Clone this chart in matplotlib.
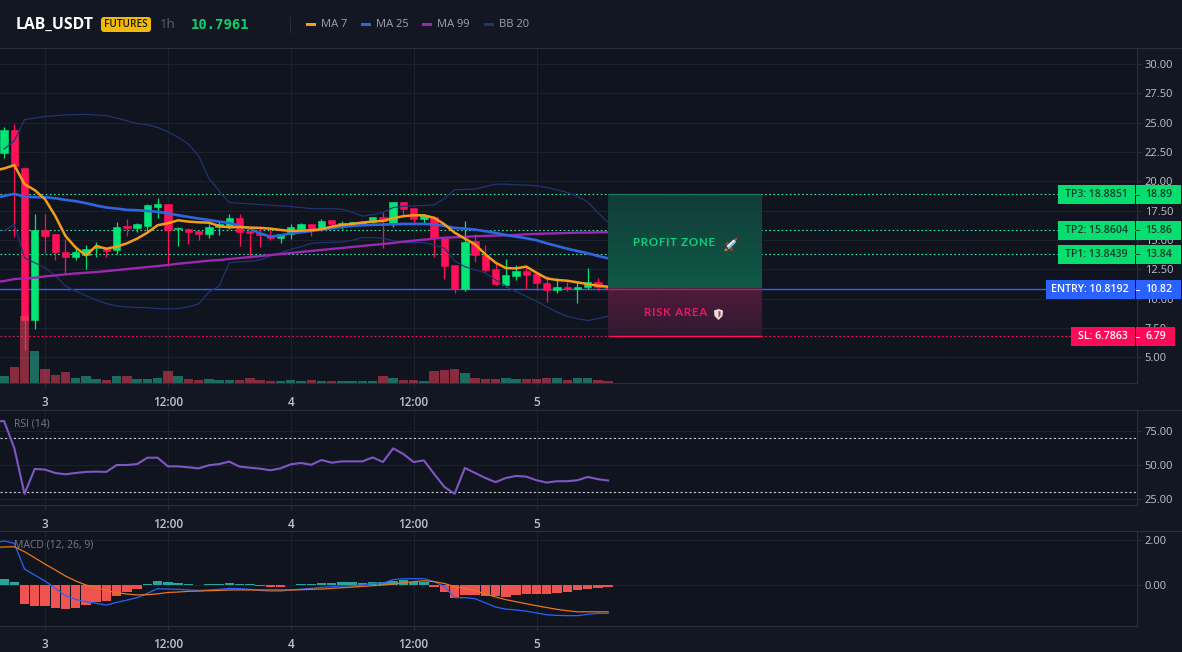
import numpy as np
import matplotlib
matplotlib.use('Agg')
import matplotlib.pyplot as plt
from matplotlib.patches import Rectangle, FancyBboxPatch, Polygon
from matplotlib.colors import to_rgb

WIDTH = 1182
HEIGHT = 652

plt.rcParams['font.family'] = ['Open Sans', 'DejaVu Sans']

# hourly bars, hour 0 is the start of day 3
hours = np.arange(-5, 56)
bar_hours = hours[1:]

opens = [22.41, 24.37, 21.13, 8.17, 15.86, 15.49, 14.0, 13.55, 13.75, 14.32, 14.23, 14.15, 16.17, 16.0, 16.2,
         17.82, 18.05, 15.97, 15.97, 15.74, 15.5, 16.14, 16.2, 16.85, 15.74, 15.57, 15.34, 15.14, 15.5, 15.97,
         16.34, 15.97, 16.69, 16.2, 16.34, 16.4, 16.54, 16.94, 16.49, 18.25, 17.71, 16.77, 17.0, 15.29, 12.84,
         10.79, 14.89, 13.75, 12.5, 11.19, 11.93, 12.33, 12.1, 11.36, 10.73, 10.96, 10.85, 10.96, 11.44, 11.02]
closes = [24.4, 21.27, 8.22, 15.86, 15.32, 13.98, 13.55, 14.0, 14.26, 14.43, 14.09, 16.14, 16.0, 16.34, 17.96,
          18.05, 15.86, 16.06, 15.69, 15.5, 16.14, 16.34, 16.85, 15.69, 15.57, 15.4, 15.14, 15.54, 16.08, 16.34,
          15.97, 16.66, 16.34, 16.49, 16.57, 16.54, 16.94, 16.63, 18.25, 17.63, 16.77, 17.11, 15.2, 12.78, 10.79,
          14.86, 13.69, 12.41, 11.22, 11.98, 12.33, 11.98, 11.3, 10.73, 10.96, 10.82, 11.02, 11.44, 11.02, 10.8]
highs = [24.6, 24.89, 21.2, 17.2, 17.2, 15.49, 15.06, 14.49, 14.55, 14.86, 14.23, 16.57, 16.77, 16.48, 18.05,
         18.56, 18.1, 16.14, 16.0, 15.74, 16.34, 16.6, 17.2, 17.2, 15.74, 16.2, 16.14, 15.54, 16.34, 16.48,
         16.4, 16.83, 16.71, 16.63, 16.57, 16.6, 16.94, 17.4, 18.28, 18.25, 17.77, 17.2, 17.06, 15.29, 12.84,
         16.66, 15.49, 14.55, 13.07, 13.35, 12.84, 12.73, 12.27, 11.93, 11.76, 11.42, 11.5, 12.64, 11.79, 11.1]
lows = [21.98, 15.26, 5.66, 7.42, 13.86, 13.29, 12.07, 13.29, 12.49, 13.55, 13.55, 13.78, 15.32, 15.69, 15.69,
        16.85, 12.78, 14.49, 14.69, 14.97, 15.14, 15.4, 15.91, 14.49, 13.49, 14.4, 14.97, 14.72, 15.06, 15.71,
        15.35, 15.77, 16.14, 15.97, 16.2, 16.3, 16.34, 14.29, 16.1, 17.06, 16.43, 16.4, 13.58, 11.64, 10.45,
        10.65, 13.12, 12.21, 11.13, 11.02, 11.59, 10.85, 10.73, 9.71, 10.45, 10.65, 9.59, 10.85, 10.73, 10.7]
volumes = [22, 47, 202, 97, 43, 25, 34, 16, 20, 13, 10, 20, 20, 12, 13, 16, 35, 20, 13, 10, 13, 10, 10, 10, 16,
           10, 6, 6, 10, 7, 10, 7, 7, 7, 7, 7, 7, 20, 16, 10, 10, 7, 35, 40, 43, 31, 16, 13, 13, 16, 13, 13, 13,
           16, 16, 10, 16, 16, 10, 7]

ma7 = [20.9, 21.1, 21.38, 19.76, 19.25, 18.48, 17.05, 15.34, 14.35, 13.69, 14.49, 14.26, 14.43, 14.72, 15.12,
       15.63, 16.26, 16.43, 16.68, 16.57, 16.51, 16.48, 16.2, 16.08, 16.11, 16.06, 16.03, 15.97, 15.86, 15.77,
       15.8, 15.83, 15.92, 16.14, 16.29, 16.37, 16.49, 16.57, 16.63, 16.86, 17.03, 17.11, 17.11, 16.89, 16.34,
       15.63, 15.12, 14.63, 13.78, 13.07, 12.61, 12.58, 12.73, 12.21, 11.73, 11.59, 11.53, 11.39, 11.24, 11.1, 11.02]
ma25 = [18.53, 18.76, 18.93, 18.7, 18.65, 18.65, 18.56, 18.42, 18.31, 18.14, 17.94, 17.77, 17.68, 17.57, 17.54,
        17.48, 17.4, 17.28, 17.11, 16.97, 16.83, 16.71, 16.57, 16.46, 16.2, 15.97, 15.57, 15.29, 15.4, 15.57,
        15.66, 15.77, 15.89, 16.0, 16.12, 16.2, 16.26, 16.29, 16.32, 16.34, 16.37, 16.37, 16.37, 16.34, 16.2,
        16.03, 15.97, 15.89, 15.75, 15.6, 15.43, 15.29, 15.15, 14.98, 14.72, 14.49, 14.26, 14.06, 13.87, 13.64, 13.44]
ma99 = [11.41, 11.5, 11.67, 11.73, 11.78, 11.9, 11.98, 12.07, 12.15, 12.21, 12.27, 12.35, 12.44, 12.52, 12.61,
        12.69, 12.78, 12.87, 12.98, 13.06, 13.15, 13.24, 13.29, 13.38, 13.46, 13.55, 13.63, 13.72, 13.8, 13.89,
        13.98, 14.07, 14.15, 14.24, 14.32, 14.41, 14.49, 14.58, 14.66, 14.75, 14.86, 14.95, 15.03, 15.12, 15.2,
        15.23, 15.26, 15.32, 15.35, 15.38, 15.4, 15.43, 15.49, 15.52, 15.55, 15.57, 15.6, 15.63, 15.63, 15.66, 15.66]
bb_upper = [22.75, 23.46, 25.26, 25.4, 25.54, 25.6, 25.66, 25.69, 25.71, 25.66, 25.6, 25.4, 25.17, 24.92, 24.83,
            24.6, 24.23, 23.75, 23.18, 22.18, 20.27, 19.19, 18.19, 18.14, 18.08, 18.02, 17.97, 17.91, 17.85, 17.77,
            17.68, 17.66, 17.66, 17.63, 17.37, 17.03, 17.17, 17.34, 17.77, 17.88, 17.91, 17.94, 18.0, 18.54, 19.28,
            19.31, 19.34, 19.56, 19.76, 19.76, 19.71, 19.68, 19.62, 19.48, 19.28, 19.05, 18.71, 18.25, 17.34, 16.49]
bb_lower = [15.77, 16.34, 13.49, 13.06, 12.64, 11.98, 11.07, 10.64, 10.27, 9.87, 9.59, 9.36, 9.3, 9.25, 9.22,
            9.16, 9.13, 9.16, 9.3, 9.56, 10.56, 11.07, 13.06, 13.15, 13.18, 13.29, 13.63, 13.92, 14.2, 14.43,
            14.72, 14.78, 14.8, 14.83, 14.98, 15.2, 15.2, 15.15, 14.95, 14.78, 14.78, 14.78, 14.6, 14.3, 13.21,
            12.73, 12.45, 12.21, 11.6, 11.07, 10.6, 10.2, 9.79, 9.3, 8.85, 8.5, 8.28, 8.14, 8.3, 8.51]

rsi = [82, 82.6, 62.5, 28.7, 47.1, 46.6, 44.1, 43.1, 44.1, 44.9, 45.1, 44.9, 50, 50, 50.7, 55.4, 55.4, 49, 49,
       48.3, 47.5, 49.8, 50.7, 52.5, 48.8, 48, 47.3, 46.1, 47.5, 50.5, 51.5, 50.2, 53.7, 51.7, 52.7, 52.7, 52.7,
       55.6, 52.2, 62.3, 58.1, 52.2, 53.4, 43.4, 33.8, 28.7, 47.8, 44.1, 40.4, 37.3, 40.4, 41.9, 41.4, 38.7, 37,
       38, 38, 38.7, 41.2, 39.5, 38.5]

macd = [1.85, 1.96, 1.85, 0.71, 0.44, 0.18, -0.15, -0.47, -0.64, -0.74, -0.81, -0.89, -0.77, -0.67, -0.56, -0.37,
        -0.16, -0.18, -0.19, -0.22, -0.24, -0.22, -0.19, -0.15, -0.16, -0.19, -0.24, -0.27, -0.27, -0.22, -0.18,
        -0.15, -0.1, -0.07, -0.04, -0.03, 0, 0.07, 0.09, 0.24, 0.28, 0.28, 0.28, 0.15, -0.07, -0.56, -0.56, -0.61,
        -0.79, -0.98, -1.07, -1.11, -1.16, -1.24, -1.32, -1.35, -1.36, -1.36, -1.3, -1.26, -1.26]
signal = [1.66, 1.69, 1.7, 1.48, 1.21, 0.93, 0.67, 0.4, 0.18, 0, -0.1, -0.25, -0.34, -0.4, -0.44, -0.43, -0.39,
          -0.33, -0.31, -0.28, -0.27, -0.25, -0.24, -0.22, -0.22, -0.22, -0.22, -0.22, -0.22, -0.22, -0.21, -0.19,
          -0.18, -0.15, -0.12, -0.09, -0.06, -0.03, 0, 0.04, 0.1, 0.15, 0.19, 0.15, 0.07, -0.07, -0.15, -0.25, -0.4,
          -0.53, -0.65, -0.74, -0.83, -0.92, -1.0, -1.08, -1.14, -1.19, -1.19, -1.19, -1.19]
hist = [0.27, 0.15, -0.84, -0.92, -0.93, -1.0, -1.07, -1.02, -0.89, -0.77, -0.7, -0.47, -0.33, -0.18, 0.04, 0.18,
        0.13, 0.1, 0.06, 0.015, 0.04, 0.04, 0.09, 0.04, 0.04, -0.03, -0.07, -0.07, 0.015, 0.04, 0.06, 0.09, 0.07,
        0.13, 0.13, 0.09, 0.13, 0.13, 0.19, 0.22, 0.15, 0.15, -0.09, -0.3, -0.59, -0.44, -0.44, -0.49, -0.49, -0.55,
        -0.44, -0.4, -0.4, -0.4, -0.37, -0.3, -0.22, -0.18, -0.12, -0.07]

tp3 = 18.8851
tp2 = 15.8604
tp1 = 13.8439
entry = 10.8192
stop = 6.7863

time_ticks = [0, 12, 24, 36, 48]
time_labels = ['3', '12:00', '4', '12:00', '5']
price_ticks = [5, 7.5, 10, 12.5, 15, 17.5, 20, 22.5, 25, 27.5, 30]
rsi_ticks = [25, 50, 75]
macd_ticks = [0, 2]

BG = '#131722'
PANE = '#10141e'
GRID = '#1d212c'
BORDER = '#2a2e39'
TICK = '#c0c3cc'
GREEN = '#00e676'
RED = '#ff1058'
BLUE = '#2962ff'

fig = plt.figure(figsize=(WIDTH / 100, HEIGHT / 100), dpi=100, facecolor=BG)


def pane(top, bottom):
    ax = fig.add_axes([0, 1 - bottom / HEIGHT, 1137 / WIDTH, (bottom - top) / HEIGHT], facecolor=PANE)
    ax.set_xlim(-45 / 10.24, (1137 - 45) / 10.24)
    for side in ['left', 'top']:
        ax.spines[side].set_visible(False)
    for side in ['right', 'bottom']:
        ax.spines[side].set_color(BORDER)
        ax.spines[side].set_linewidth(0.8)
    ax.set_xticks(time_ticks)
    ax.set_xticklabels(time_labels)
    ax.tick_params(axis='x', colors=TICK, labelsize=8.5, length=3, width=0.7, color=BORDER, pad=6)
    ax.tick_params(axis='y', colors=TICK, labelsize=8, length=3, width=0.7, color=BORDER, pad=2.5)
    for lab in ax.get_xticklabels():
        lab.set_fontweight('semibold')
    ax.grid(True, color=GRID, linewidth=0.8)
    ax.set_axisbelow(True)
    return ax


def spaced(text):
    return '\u200a'.join(text)


# price pane
ax = pane(48, 383)
ax.set_ylim(2.81, 31.37)
ax.set_yticks(price_ticks)
ax.set_yticklabels(['%.2f' % p for p in price_ticks])

# stop and target levels
for level in [tp1, tp2, tp3]:
    ax.axhline(level, color='#38e8a8', linewidth=0.8, linestyle=(0, (1.5, 2.2)), zorder=1.5)
ax.axhline(stop, color=RED, linewidth=0.8, linestyle=(0, (1.5, 2.2)), zorder=1.5)
ax.axhline(entry, color=BLUE, linewidth=1.0, zorder=1.5)

opens_a = np.array(opens)
closes_a = np.array(closes)
up = closes_a >= opens_a
candle_colors = [GREEN if u else RED for u in up]
ax.vlines(bar_hours, lows, highs, colors=candle_colors, linewidth=0.9, zorder=2)
ax.bar(bar_hours, np.abs(closes_a - opens_a), bottom=np.minimum(opens_a, closes_a), width=0.72,
       color=candle_colors, edgecolor=candle_colors, linewidth=0.4, zorder=2.1)

ax.plot(bar_hours, bb_upper, color='#1f3472', linewidth=0.9, zorder=2.5)
ax.plot(bar_hours, bb_lower, color='#1f3472', linewidth=0.9, zorder=2.5)
ax.plot(hours, ma99, color='#9c27b0', linewidth=1.7, zorder=3)
ax.plot(hours, ma25, color='#2f66e0', linewidth=1.9, zorder=3.1)
ax.plot(hours, ma7, color='#f59c1a', linewidth=1.8, zorder=3.2)


def gradient(top, bottom):
    colors = np.linspace(to_rgb(top), to_rgb(bottom), 128)
    return colors.reshape(128, 1, 3)


# profit and risk boxes
zone_start = 55
zone_end = 70
ax.imshow(gradient('#123c38', '#0f5a48'), extent=[zone_start, zone_end, entry, tp3], aspect='auto', zorder=4)
ax.imshow(gradient('#521a3c', '#2e1a30'), extent=[zone_start, zone_end, stop, entry], aspect='auto', zorder=4)
ax.set_xlim(-45 / 10.24, (1137 - 45) / 10.24)
ax.set_ylim(2.81, 31.37)
ax.hlines(tp3, zone_start, zone_end, color='#1f7a62', linewidth=0.8, zorder=4.1)
ax.hlines(stop, zone_start, zone_end, color=RED, linewidth=1.0, zorder=4.1)
ax.hlines(entry, zone_start, zone_end, color='#6a4a5e', linewidth=1.0, zorder=4.1)
ax.text(61.4, (tp3 + entry) / 2 - 0.05, spaced('PROFIT ZONE'), color='#10d080', fontsize=8.3, ha='center',
        va='center', family=['Lato', 'DejaVu Sans'], fontweight='bold', zorder=5)
ax.text(61.6, (stop + entry) / 2, spaced('RISK AREA'), color='#f0145f', fontsize=8.3, ha='center',
        va='center', family=['Lato', 'DejaVu Sans'], fontweight='bold', zorder=5)

# volume sits on its own hidden scale along the bottom of the price pane
vol = ax.twinx()
vol.set_ylim(0, 1005)
vol.set_xlim(ax.get_xlim())
vol.axis('off')
vol.bar(bar_hours, volumes, width=0.92, color=['#28c2a2' if u else '#ff445e' for u in up], alpha=0.5)
ax.yaxis.tick_right()

# RSI pane
rsi_ax = pane(410, 505)
rsi_ax.yaxis.tick_right()
rsi_ax.set_ylim(20.4, 90.7)
rsi_ax.set_yticks(rsi_ticks)
rsi_ax.set_yticklabels(['%.2f' % t for t in rsi_ticks])
for level in [30, 70]:
    rsi_ax.axhline(level, color='#c8cad0', linewidth=0.8, linestyle=(0, (2, 2)), zorder=1.5)
rsi_ax.plot(hours, rsi, color='#7e57c2', linewidth=1.5, zorder=3)

# MACD pane
macd_ax = pane(531, 626)
macd_ax.yaxis.tick_right()
macd_ax.set_ylim(-1.82, 2.4)
macd_ax.set_yticks(macd_ticks)
macd_ax.set_yticklabels(['%.2f' % t for t in macd_ticks])
macd_ax.bar(bar_hours, hist, width=0.92, color=['#26a69a' if v >= 0 else '#ef5350' for v in hist], zorder=2)
macd_ax.plot(hours, macd, color=BLUE, linewidth=0.9, zorder=3)
macd_ax.plot(hours, signal, color='#e8761a', linewidth=0.9, zorder=3.1)

# header, level tags and icons are laid out in pixels on a sheet over everything
top = fig.add_axes([0, 0, 1, 1], facecolor='none', zorder=10)
top.set_xlim(0, WIDTH)
top.set_ylim(HEIGHT, 0)
top.axis('off')

top.text(14, 424, 'RSI (14)', color='#787b86', fontsize=7.5, va='center')
top.text(14, 545, 'MACD (12, 26, 9)', color='#787b86', fontsize=7.5, va='center')

top.add_patch(Rectangle((0, 0), WIDTH, 47.5, facecolor=BG, edgecolor='none'))
for y in [48, 410, 531]:
    top.plot([0, WIDTH], [y, y], color=BORDER, linewidth=0.8)

top.text(16, 25, 'LAB_USDT', color='white', fontsize=11.3, fontweight='bold', va='center')
top.add_patch(FancyBboxPatch((103, 19), 46, 11, boxstyle='round,pad=2,rounding_size=3', facecolor='#f0b90b',
                             edgecolor='none'))
top.text(126, 24.8, 'FUTURES', color='#1a1a1a', fontsize=7.2, fontweight='semibold', ha='center', va='center')
top.text(160, 25, '1h', color='#5d606b', fontsize=9.5, va='center')
top.text(191, 25, '10.7961', color='#10d070', fontsize=10, fontweight='bold', va='center',
         family='DejaVu Sans Mono')
top.plot([290, 290], [17, 32], color=BORDER, linewidth=0.8)

legend_names = ['MA 7', 'MA 25', 'MA 99', 'BB 20']
legend_colors = ['#f59c1a', '#2f66e0', '#9c27b0', '#1f3472']
legend_x = [306, 361, 422, 484]
for name, color, x in zip(legend_names, legend_colors, legend_x):
    top.add_patch(Rectangle((x, 23), 10, 2.5, facecolor=color, edgecolor='none'))
    top.text(x + 15, 24.5, name, color='#a0a3ad', fontsize=8, va='center')


def level_tag(price, name, left, right, fill, ink):
    y = HEIGHT - ax.transData.transform((0, price))[1] + 0.5
    top.add_patch(Rectangle((left, y - 9.5), 1134.5 - left, 19, facecolor=fill, edgecolor='none'))
    top.add_patch(Rectangle((1135.5, y - 9.5), right - 1135.5, 19, facecolor=fill, edgecolor='none'))
    top.plot([1136, 1139], [y, y], color=ink, linewidth=0.7)
    top.text((left + 1134.5) / 2, y, '%s: %.4f' % (name, price), color=ink, fontsize=7.6, fontweight='semibold',
             ha='center', va='center')
    top.text(1145, y, '%.2f' % price, color=ink, fontsize=7.6, fontweight='semibold', ha='left', va='center')


level_tag(tp3, 'TP3', 1058, 1181, '#06df70', '#0f3b2b')
level_tag(tp2, 'TP2', 1058, 1181, '#06df70', '#0f3b2b')
level_tag(tp1, 'TP1', 1058, 1181, '#06df70', '#0f3b2b')
level_tag(entry, 'ENTRY', 1046, 1181, '#2962ff', 'white')
level_tag(stop, 'SL', 1071, 1175, '#ff0a58', 'white')

# rocket
top.add_patch(Polygon([[726, 248], [724, 251], [728, 250.5]], facecolor='#f08030', edgecolor='none'))
top.add_patch(Polygon([[724.5, 244.5], [728, 241], [729, 245]], facecolor='#c03030', edgecolor='none'))
top.add_patch(Polygon([[729, 250], [733, 246.5], [732.5, 251]], facecolor='#c03030', edgecolor='none'))
top.add_patch(Polygon([[726.5, 246], [733, 240], [736, 238.5], [735.5, 242.5], [729, 249]],
                      facecolor='#e4f2fa', edgecolor='none'))
top.add_patch(Polygon([[727.5, 248], [734, 241.5], [735.5, 242.5], [729, 249]], facecolor='#7ab8e0', edgecolor='none'))
top.add_patch(Polygon([[733.5, 239.5], [737.5, 237.5], [736, 241.5]], facecolor='#d83a3a', edgecolor='none'))

# shield
top.add_patch(Polygon([[714, 310.5], [718.5, 309], [723, 310.5], [722.5, 316], [718.5, 320], [714.5, 316]],
                      facecolor='#e8dfe0', edgecolor='none'))
top.add_patch(Polygon([[718.5, 311], [720.5, 311.5], [720.5, 315.5], [718.5, 318]], facecolor='#c8303c',
                      edgecolor='none'))

fig.savefig('out.png', dpi=100, facecolor=BG)
